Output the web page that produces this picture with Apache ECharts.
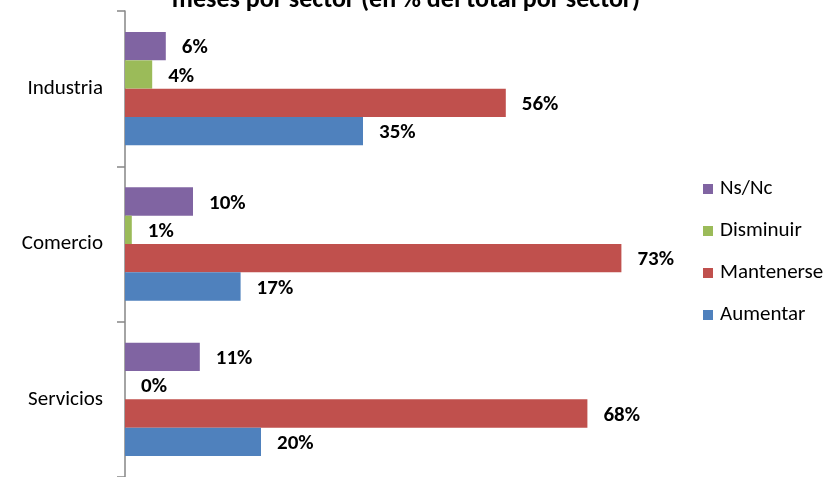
<!DOCTYPE html>
<html>
<head>
<meta charset="utf-8">
<script src="https://cdn.jsdelivr.net/npm/echarts@6/dist/echarts.min.js"></script>
<style>
  html, body { margin: 0; padding: 0; background: #ffffff; }
  #chart { width: 833px; height: 477px; }
</style>
</head>
<body>
<div id="chart"></div>
<script>
// Sectors, listed bottom to top along the category axis
const sectors = ['Servicios', 'Comercio', 'Industria'];

// Share of respondents per expectation (% of each sector's total)
const nsnc       = [11, 10, 6];
const disminuir  = [0, 1, 4];
const mantenerse = [68, 73, 56];
const aumentar   = [20, 17, 35];

// Series are listed top to bottom inside each sector group
const seriesNames  = ['Ns/Nc', 'Disminuir', 'Mantenerse', 'Aumentar'];
const seriesColors = ['#8064A2', '#9BBB59', '#C0504D', '#4F81BD'];
const seriesValues = [nsnc, disminuir, mantenerse, aumentar];

const FONT = 'Carlito, Lato, "Open Sans", sans-serif';

const chart = echarts.init(document.getElementById('chart'), null, { renderer: 'canvas' });

chart.setOption({
  animation: false,
  backgroundColor: '#ffffff',
  title: {
    text: 'meses por sector (en % del total por sector)',
    left: 401,
    top: -18,
    textAlign: 'center',
    textStyle: { fontFamily: FONT, fontSize: 26, fontWeight: 'bold', color: '#000000' }
  },
  legend: {
    orient: 'vertical',
    left: 703,
    top: 178,
    padding: 0,
    itemWidth: 10,
    itemHeight: 10,
    itemGap: 20,
    icon: 'rect',
    data: seriesNames,
    textStyle: { fontFamily: FONT, fontSize: 21, lineHeight: 22, color: '#000000', padding: [0, 0, 0, 2] }
  },
  grid: { left: 125, top: 11, width: 544, height: 470 },
  xAxis: {
    type: 'value',
    min: 0,
    max: 80,
    show: false,
    splitLine: { show: false }
  },
  yAxis: {
    type: 'category',
    data: sectors,
    axisLine: { show: true, lineStyle: { color: '#868686', width: 1.5 } },
    axisTick: { show: true, length: 8, lineStyle: { color: '#868686', width: 1.5 } },
    axisLabel: { fontFamily: FONT, fontSize: 21, color: '#000000', margin: 22 }
  },
  series: seriesNames.map((name, i) => ({
    name: name,
    type: 'bar',
    data: seriesValues[i],
    barGap: '0%',
    barCategoryGap: '27%',
    itemStyle: { color: seriesColors[i] },
    label: {
      show: true,
      position: 'right',
      distance: 16,
      offset: [0, 2],
      formatter: p => p.value + '%',
      fontFamily: FONT,
      fontSize: 21,
      fontWeight: 'bold',
      color: '#000000'
    }
  }))
});
</script>
</body>
</html>
